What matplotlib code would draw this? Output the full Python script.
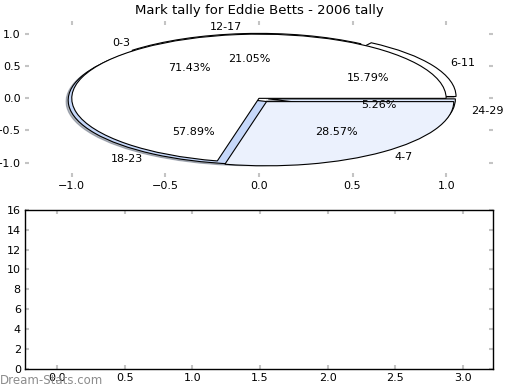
import matplotlib
matplotlib.use("Agg")
import matplotlib.pyplot as plt
import numpy as np

# outer pie (drawn first, underneath)
labels_b = ["6-11", "12-17", "18-23", "24-29"]
values_b = [3, 4, 11, 1]
colors_b = ["white", "white", "#c6d8fa", "#dde8fc"]

# inner pie (drawn on top)
labels_a = ["0-3", "4-7"]
values_a = [5, 2]
colors_a = ["white", "#ebf1fd"]

title = "Mark tally for Eddie Betts - 2006 tally"
bottom_yticks = list(range(0, 17, 2))
bottom_xticks = [0.0, 0.5, 1.0, 1.5, 2.0, 2.5, 3.0]

plt.rcParams["font.family"] = "DejaVu Sans"
fig = plt.figure(figsize=(5.2, 3.9), dpi=100)

tick_kw = dict(direction="in", length=3, width=1.5, color="#c4c4c4",
               labelsize=8, top=True, right=True, pad=3)

# --- pie axes ---
ax = fig.add_axes([0.048, 0.547, 0.9, 0.40])
ax.pie(values_b, labels=labels_b, colors=colors_b, autopct="%.2f%%",
       explode=[0.06, 0.012, 0.035, 0.05],
       shadow=dict(ox=-0.008, oy=-0.015, shade=0.5), frame=True,
       wedgeprops=dict(edgecolor="black", linewidth=0.8),
       textprops=dict(fontsize=8))
ax.pie(values_a, labels=labels_a, colors=colors_a, autopct="%.2f%%",
       explode=[0.0, 0.065], shadow=False, frame=True,
       wedgeprops=dict(edgecolor="black", linewidth=0.8),
       textprops=dict(fontsize=8))
ax.set_aspect("auto")
ax.set_xlim(-1.25, 1.25)
ax.set_ylim(-1.22, 1.21)
ax.set_xticks([-1.0, -0.5, 0.0, 0.5, 1.0])
ax.set_yticks([-1.0, -0.5, 0.0, 0.5, 1.0])
for s in ax.spines.values():
    s.set_visible(False)
ax.tick_params(**tick_kw)
ax.set_title(title, fontsize=9.5, pad=5)

# --- empty bottom axes ---
ax2 = fig.add_axes([0.048, 0.054, 0.9, 0.408])
ax2.set_xlim(-0.236, 3.22)
ax2.set_ylim(0, 16)
ax2.set_xticks(bottom_xticks)
ax2.set_yticks(bottom_yticks)
ax2.tick_params(**tick_kw)
for s in ax2.spines.values():
    s.set_linewidth(1.0)

fig.text(0.0, 0.015, "Dream-Stats.com", color="#8c8c8c", fontsize=8.5)

fig.savefig("out.png", dpi=100)
